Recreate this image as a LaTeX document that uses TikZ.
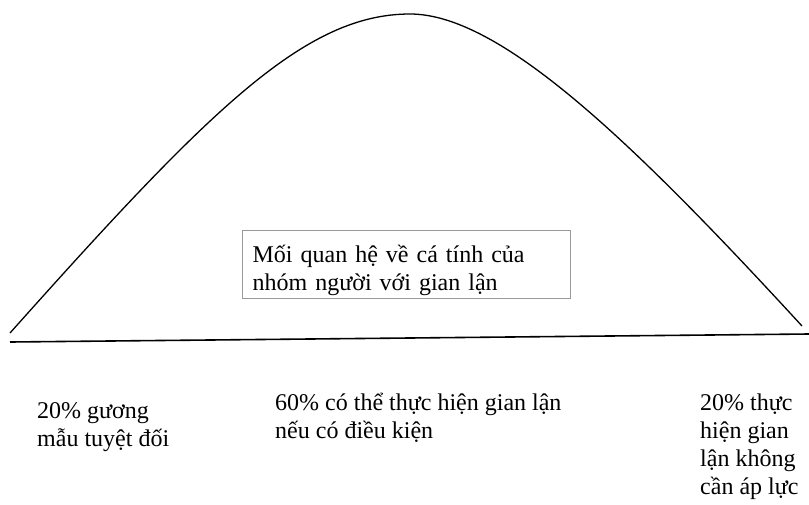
\documentclass[tikz,border=0pt]{standalone}
\usepackage{fontspec}
\setmainfont{Liberation Serif}
\begin{document}
\begin{tikzpicture}[x=1pt,y=-1pt,
  lbl/.style={inner sep=0pt, anchor=base west, align=left, font=\fontsize{24}{28}\selectfont},
  curve/.style={line width=1.3pt, black},
  baseln/.style={line width=1.6pt, black},
  infobox/.style={draw=black!40, line width=1.3pt, anchor=north west, minimum width=328pt, inner xsep=10pt, inner ysep=0pt, text height=32pt, text depth=36pt, align=left, font=\fontsize{24}{28}\selectfont, text width=308pt}]
\useasboundingbox (0,0) rectangle (809,504);
\coordinate (cl) at (10,333);
\coordinate (top) at (410,14);
\coordinate (cr) at (802,326);
\draw[curve] (cl) .. controls (210,109) and (305,14) .. (top)
  .. controls (500,14) and (632,141) .. (cr);
\coordinate (bl) at (10,342);
\coordinate (br) at (809,334);
\draw[baseln] (bl) -- (br);
\node[infobox] (box) at (242,230) {Mối quan hệ về cá tính của\\nhóm người với gian lận};
\node[lbl] (left) at (37,446) {20\% gương\\mẫu tuyệt đối};
\node[lbl] (mid) at (275,438) {60\% có thể thực hiện gian lận\\nếu có điều kiện};
\node[lbl] (right) at (700,494) {20\% thực\\hiện gian\\lận không\\cần áp lực};
\end{tikzpicture}
\end{document}
